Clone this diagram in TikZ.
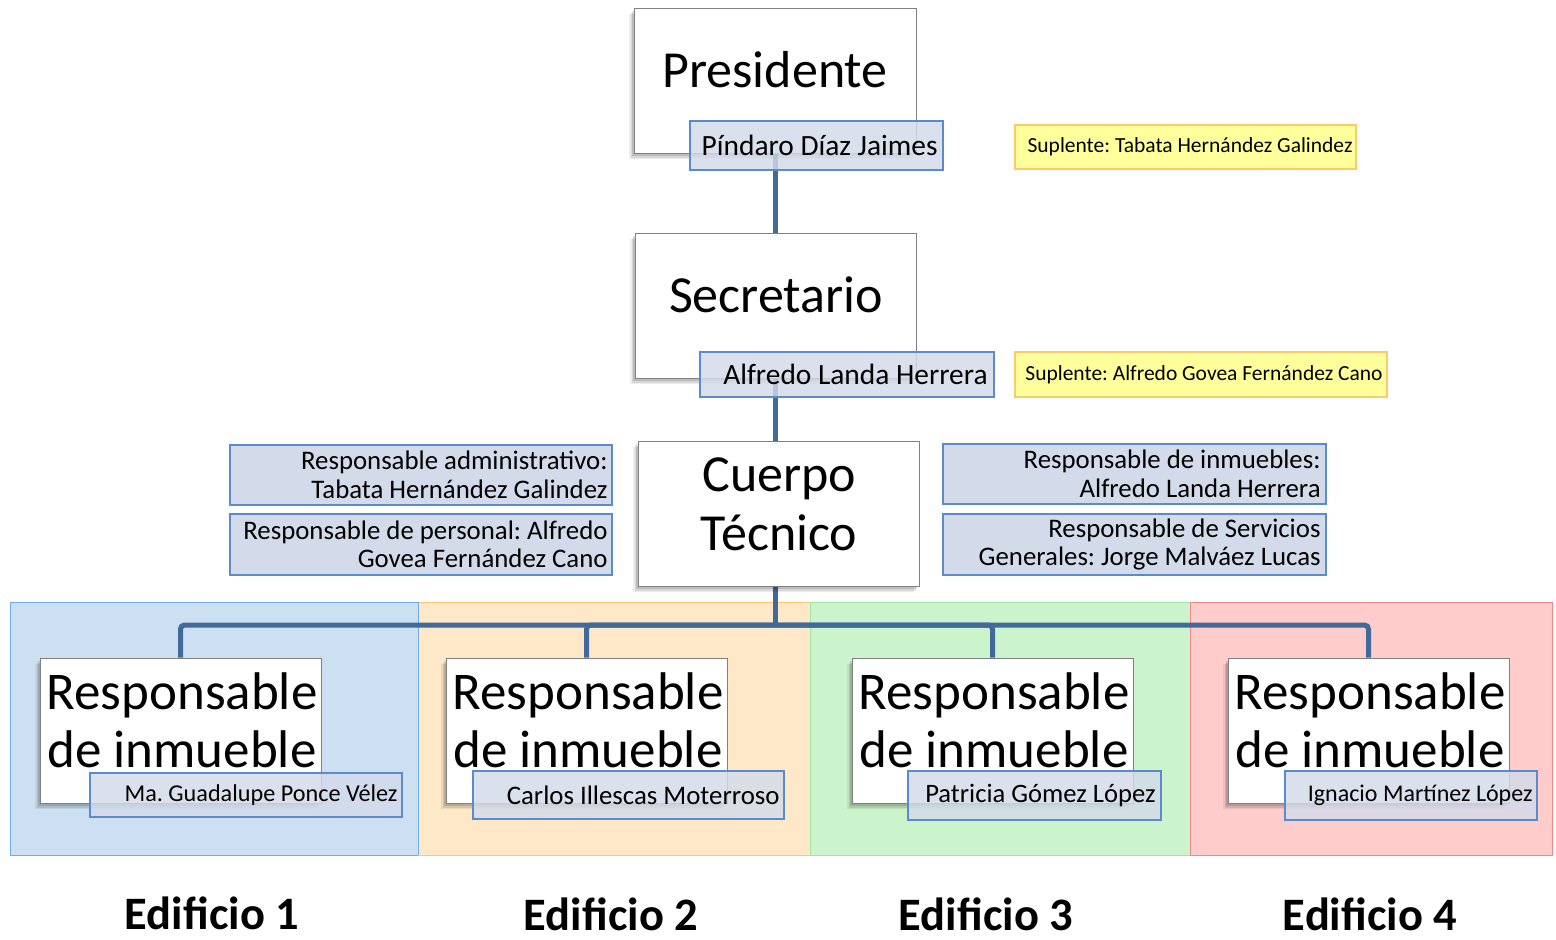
\documentclass[tikz,border=0pt]{standalone}
\usepackage{fontspec}
\setmainfont{Carlito}
\usetikzlibrary{calc}
\definecolor{conncol}{HTML}{41699A}
\definecolor{nbfill}{HTML}{D3DBEA}
\definecolor{nbdraw}{HTML}{5B8BCB}
\definecolor{yfill}{HTML}{FFFF9C}
\definecolor{ydraw}{HTML}{FFC966}
\definecolor{bfill}{HTML}{CCE0F2}
\definecolor{bdraw}{HTML}{6EAEE8}
\definecolor{ofill}{HTML}{FFE8C8}
\definecolor{odraw}{HTML}{FFC870}
\definecolor{gfill}{HTML}{CCF4CC}
\definecolor{gdraw}{HTML}{A0E6A0}
\definecolor{rfill}{HTML}{FFCCCC}
\definecolor{rdraw}{HTML}{F08888}
\pgfdeclarelayer{regions}
\pgfdeclarelayer{lines}
\pgfsetlayers{regions,lines,main}
\frenchspacing
\begin{document}
\begin{tikzpicture}[x=1pt,y=-1pt,
  execute at begin node=\frenchspacing,
  whitebox/.style={draw=black!50, line width=0.8pt, fill=white,
    minimum width=281pt, minimum height=145pt, inner sep=0pt,
    preaction={fill=black, draw=none, opacity=0.07, transform canvas={shift={(-5pt,-6pt)}}},
    preaction={fill=black, draw=none, opacity=0.09, transform canvas={shift={(-3.5pt,-4.5pt)}}},
    preaction={fill=black, draw=none, opacity=0.12, transform canvas={shift={(-2pt,-3pt)}}}},
  bigtxt/.style={font=\fontsize{52}{58}\selectfont, inner sep=0pt, anchor=base},
  resptxt/.style={font=\fontsize{53}{58}\selectfont, inner sep=0pt, anchor=base},
  namebox/.style={draw=nbdraw, line width=1.5pt, fill=nbfill, fill opacity=0.82, inner sep=0pt},
  sidebox/.style={draw=nbdraw, line width=1.5pt, fill=nbfill, inner sep=0pt},
  ybox/.style={draw=ydraw, line width=1.5pt, fill=yfill, inner sep=0pt},
  rtxt/.style={anchor=east, align=right, inner sep=0pt},
  namefont/.style={font=\fontsize{29.4}{31}\selectfont},
  sidefont/.style={font=\fontsize{26.8}{28.5}\selectfont},
  yfont/.style={font=\fontsize{21.5}{23}\selectfont},
  link/.style={draw=conncol, line width=5pt},
  edif/.style={font=\bfseries\fontsize{46.5}{50}\selectfont, inner sep=0pt, anchor=base, text depth=0pt}
]
\begin{pgfonlayer}{regions}
\fill[white] (0,0) rectangle (1556,940);
\useasboundingbox (0,0) rectangle (1556,940);
\draw[draw=bdraw, fill=bfill, line width=1pt] (10,602) rectangle (418,855);
\draw[draw=odraw, fill=ofill, line width=1pt] (418,602) rectangle (810,855);
\draw[draw=gdraw, fill=gfill, line width=1pt] (810,602) rectangle (1190,855);
\draw[draw=rdraw, fill=rfill, line width=1pt] (1190,602) rectangle (1552,855);
\draw[draw=bdraw, line width=1pt] (418,602) -- (418,855);
\end{pgfonlayer}

% main boxes
\node[whitebox, minimum width=282pt] (pres) at (775,80.5) {};
\node[whitebox] (sec) at (775.5,305.5) {};
\node[whitebox] (ct) at (778.5,513.5) {};
\node[whitebox] (r1) at (180.5,730.5) {};
\node[whitebox] (r2) at (586.5,730.5) {};
\node[whitebox] (r3) at (992.5,730.5) {};
\node[whitebox] (r4) at (1368.5,730.5) {};

\node[bigtxt] (prestxt) at (775,87) {Presidente};
\node[bigtxt] (sectxt) at (776,312) {Secretario};
\node[bigtxt] (cttxta) at (779.5,491) {Cuerpo};
\node[bigtxt] (cttxtb) at (779,550) {Técnico};
\node[resptxt] (r1a) at (182,709) {Responsable};
\node[resptxt] (r1b) at (182,767) {de inmueble};
\node[resptxt] (r2a) at (588,709) {Responsable};
\node[resptxt] (r2b) at (588,767) {de inmueble};
\node[resptxt] (r3a) at (994,709) {Responsable};
\node[resptxt] (r3b) at (994,767) {de inmueble};
\node[resptxt] (r4a) at (1370,709) {Responsable};
\node[resptxt] (r4b) at (1370,767) {de inmueble};

\coordinate (bus) at (775,625);
\begin{pgfonlayer}{lines}
\draw[link] (pres.south) -- (pres.south |- sec.north);
\draw[link] (sec.south -| pres.south) -- (pres.south |- ct.north);
\draw[link] (ct.south -| bus) -- (bus);
\draw[link, rounded corners=4pt] (bus) -| (r1.north);
\draw[link, rounded corners=4pt] (bus) -| (r2.north);
\draw[link, rounded corners=4pt] (bus) -| (r3.north);
\draw[link, rounded corners=4pt] (bus) -| (r4.north);
\end{pgfonlayer}

% name boxes
\node[namebox, minimum width=253pt, minimum height=49pt] (pname) at (816.5,145.5) {};
\node[rtxt, namefont] (pnamet) at ([xshift=-6pt]pname.east) {Píndaro Díaz Jaimes};
\node[namebox, minimum width=294pt, minimum height=45pt] (sname) at (847,374.5) {};
\node[rtxt, namefont] (snamet) at ([xshift=-7pt]sname.east) {Alfredo Landa Herrera};
\node[namebox, minimum width=312pt, minimum height=44pt] (n1) at (246,795) {};
\node[rtxt, font=\fontsize{24.2}{26}\selectfont] (n1t) at ([xshift=-5pt]n1.east) {Ma. Guadalupe Ponce Vélez};
\node[namebox, minimum width=311pt, minimum height=48pt] (n2) at (628.5,795) {};
\node[rtxt, font=\fontsize{26.8}{28}\selectfont] (n2t) at ([xshift=-5pt]n2.east) {Carlos Illescas Moterroso};
\node[namebox, minimum width=253pt, minimum height=49pt] (n3) at (1034.5,795.5) {};
\node[rtxt, font=\fontsize{26.6}{28}\selectfont] (n3t) at ([xshift=-6pt]n3.east) {Patricia Gómez López};
\node[namebox, minimum width=252pt, minimum height=49pt] (n4) at (1411,795.5) {};
\node[rtxt, font=\fontsize{24}{26}\selectfont] (n4t) at ([xshift=-5pt]n4.east) {Ignacio Martínez López};

% side boxes
\node[sidebox, minimum width=382pt, minimum height=60pt] (radm) at (421,475) {};
\node[rtxt, sidefont] (radmt) at ([xshift=-5pt]radm.east) {Responsable administrativo:\\Tabata Hernández Galindez};
\node[sidebox, minimum width=382pt, minimum height=61pt] (rper) at (421,544.5) {};
\node[rtxt, sidefont] (rpert) at ([xshift=-5pt]rper.east) {Responsable de personal: Alfredo\\Govea Fernández Cano};
\node[sidebox, minimum width=383pt, minimum height=60pt] (rinm) at (1134.5,474) {};
\node[rtxt, sidefont] (rinmt) at ([xshift=-6pt]rinm.east) {Responsable de inmuebles:\\Alfredo Landa Herrera};
\node[sidebox, minimum width=383pt, minimum height=61pt] (rser) at (1134.5,544.5) {};
\node[rtxt, sidefont] (rsert) at ([xshift=-6pt]rser.east) {Responsable de Servicios\\Generales: Jorge Malváez Lucas};

% suplentes
\node[ybox, minimum width=341pt, minimum height=44pt] (sup1) at (1185.5,147) {};
\node[rtxt, yfont] (sup1t) at ([xshift=-4pt]sup1.east) {Suplente: Tabata Hernández Galindez};
\node[ybox, minimum width=372pt, minimum height=45pt] (sup2) at (1201,374.5) {};
\node[rtxt, yfont] (sup2t) at ([xshift=-5pt]sup2.east) {Suplente: Alfredo Govea Fernández Cano};

% edificio labels
\node[edif] (e1) at (212,929) {Edificio 1};
\node[edif] (e2) at (611,930) {Edificio 2};
\node[edif] (e3) at (986,930) {Edificio 3};
\node[edif] (e4) at (1370,930) {Edificio 4};
\end{tikzpicture}
\end{document}
